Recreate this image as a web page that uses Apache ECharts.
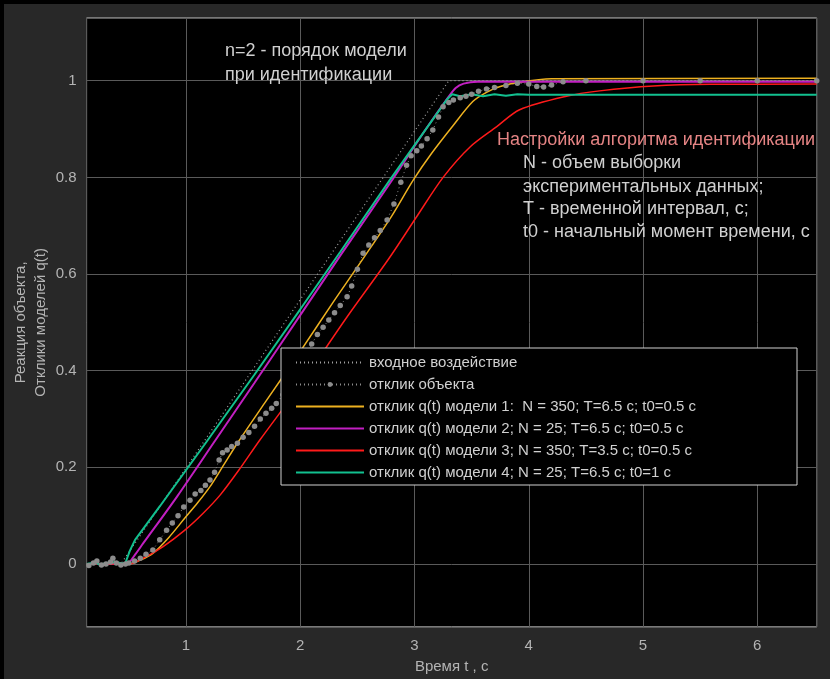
<!DOCTYPE html>
<html>
<head>
<meta charset="utf-8">
<script src="https://cdn.jsdelivr.net/npm/echarts@6/dist/echarts.min.js"></script>
<style>
html,body{margin:0;padding:0;background:#000;width:830px;height:679px;overflow:hidden;}
#c{position:absolute;left:4px;top:4px;width:826px;height:675px;}
</style>
</head>
<body>
<div id="c"></div>
<script>
// ---- data (time in s, response values) ----
const seriesNames = [
  'входное воздействие',
  'отклик объекта',
  'отклик q(t) модели 1:  N = 350; T=6.5 c; t0=0.5 c',
  'отклик q(t) модели 2; N = 25; T=6.5 c; t0=0.5 c',
  'отклик q(t) модели 3; N = 350; T=3.5 c; t0=0.5 c',
  'отклик q(t) модели 4; N = 25; T=6.5 c; t0=1 c'
];
const xTicks = [1, 2, 3, 4, 5, 6];
const yTicks = [0, 0.2, 0.4, 0.6, 0.8, 1];

const tInput = [0.13, 0.43, 3.30, 6.52];
const vInput = [0, 0, 1, 1];

const tObj = [0.15,0.19,0.22,0.26,0.30,0.34,0.36,0.39,0.43,0.47,0.50,0.55,0.60,0.65,0.71,0.77,0.83,0.88,0.93,0.98,
  1.035,1.08,1.13,1.17,1.21,1.25,1.29,1.32,1.36,1.40,1.45,1.50,1.55,1.60,1.65,1.70,1.75,1.79,1.85,1.90,
  1.95,2.00,2.05,2.10,2.15,2.20,2.25,2.30,2.35,2.41,2.45,2.50,2.55,2.60,2.65,2.70,2.76,2.82,2.88,2.93,
  2.97,3.02,3.06,3.11,3.16,3.21,3.25,3.30,3.34,3.40,3.45,3.50,3.56,3.63,3.70,3.80,3.90,4.00,4.07,4.13,
  4.20,4.30,4.50,5.00,5.50,6.00,6.52];
const vObj = [-0.003,0.002,0.006,-0.002,0.000,0.004,0.012,0.002,-0.002,0.000,0.002,0.006,0.012,0.020,0.029,0.050,0.070,0.085,0.100,0.118,
  0.132,0.145,0.152,0.163,0.174,0.190,0.215,0.230,0.236,0.243,0.250,0.262,0.272,0.285,0.300,0.312,0.322,0.332,0.350,0.370,
  0.385,0.405,0.430,0.455,0.475,0.490,0.505,0.520,0.535,0.553,0.575,0.610,0.643,0.660,0.675,0.690,0.712,0.745,0.790,0.825,
  0.845,0.855,0.865,0.880,0.898,0.925,0.946,0.955,0.960,0.965,0.968,0.972,0.978,0.983,0.986,0.990,0.995,0.993,0.988,0.987,
  0.991,0.998,1.000,1.000,1.000,1.000,1.000];

const tM1 = [0.13,0.50,0.60,0.71,0.85,0.99,1.10,1.21,1.33,1.458,1.70,2.00,2.30,2.55,2.80,2.99,3.15,3.34,3.51,3.63,3.75,3.92,4.20,6.52];
const vM1 = [0,0,0.008,0.022,0.055,0.095,0.126,0.160,0.205,0.253,0.337,0.440,0.546,0.632,0.720,0.795,0.850,0.908,0.957,0.976,0.988,0.997,1.004,1.005];

const tM2 = [0.13,0.48,0.55,0.626,0.92,1.26,1.60,2.00,2.35,2.80,3.10,3.296,3.36,3.43,3.55,6.52];
const vM2 = [0,0,0.018,0.043,0.139,0.257,0.375,0.515,0.638,0.793,0.900,0.966,0.985,0.994,0.998,0.998];

const tM3 = [0.13,0.50,0.626,0.80,0.99,1.15,1.30,1.48,1.648,2.00,2.40,2.77,3.02,3.25,3.486,3.72,3.92,4.33,4.62,5.09,5.59,6.52];
const vM3 = [0,0,0.012,0.036,0.070,0.105,0.143,0.200,0.257,0.370,0.508,0.630,0.719,0.800,0.863,0.905,0.940,0.968,0.979,0.989,0.9925,0.993];

const tM4 = [0.13,0.20,0.25,0.30,0.38,0.466,0.51,0.554,0.77,1.18,1.60,2.00,2.348,2.80,3.10,3.28,3.33,3.40,3.50,3.60,3.70,3.80,3.90,4.00,6.52];
const vM4 = [0,0.003,-0.002,0.002,0.004,0,0.028,0.050,0.119,0.253,0.392,0.527,0.645,0.800,0.900,0.960,0.972,0.968,0.972,0.968,0.972,0.969,0.972,0.971,0.971];

const zip = (t, v) => t.map((x, i) => [x, v[i]]);

const OX = 4, OY = 4; // container offset in the page
const FONT = '"Liberation Sans", Arial, sans-serif';
const noSym = {opacity: 0};

const chart = echarts.init(document.getElementById('c'), null, {renderer: 'canvas'});
chart.setOption({
  backgroundColor: '#282828',
  animation: false,
  textStyle: {fontFamily: FONT},
  grid: {left: 86.6 - OX, right: 830 - 816.7, top: 17.9 - OY, bottom: 679 - 626.8,
         outerBoundsMode: 'none', containLabel: false,
         show: true, backgroundColor: '#000', borderColor: '#a8a8a8', borderWidth: 1},
  xAxis: {
    type: 'value', min: 0.13, max: 6.52, splitNumber: 6,
    name: 'Время t , с', nameLocation: 'middle', nameGap: 33,
    nameTextStyle: {color: '#b4b4b4', fontSize: 15, fontFamily: FONT},
    axisLine: {show: false}, axisTick: {show: false},
    axisLabel: {color: '#b4b4b4', fontSize: 15, fontFamily: FONT, margin: 12,
                showMinLabel: false, showMaxLabel: false,
                formatter: v => xTicks.includes(Math.round(v * 1000) / 1000) ? String(v) : ''},
    splitLine: {show: true, lineStyle: {color: '#5a5a5a', width: 1}}
  },
  yAxis: {
    type: 'value', min: -0.13, max: 1.13, splitNumber: 6,
    name: 'Реакция объекта,\nОтклики моделей q(t)', nameLocation: 'middle', nameGap: 36, nameRotate: 90,
    nameMoveOverlap: false,
    nameTextStyle: {color: '#b4b4b4', fontSize: 15, fontFamily: FONT, lineHeight: 20},
    axisLine: {show: false}, axisTick: {show: false},
    axisLabel: {color: '#b4b4b4', fontSize: 15, fontFamily: FONT, margin: 10,
                showMinLabel: false, showMaxLabel: false,
                formatter: v => { const r = Math.round(v * 1000) / 1000; return yTicks.includes(r) ? String(r) : ''; }},
    splitLine: {show: true, lineStyle: {color: '#5a5a5a', width: 1}}
  },
  legend: {
    orient: 'vertical', left: 295 - OX, top: 355 - OY, padding: 0, z: 10,
    itemWidth: 68, itemHeight: 6, itemGap: 7, selectedMode: false,
    textStyle: {color: '#d0d0d0', fontSize: 15, lineHeight: 15, fontFamily: FONT},
    data: [
      {name: seriesNames[0], itemStyle: noSym},
      {name: seriesNames[1]},
      {name: seriesNames[2], itemStyle: noSym},
      {name: seriesNames[3], itemStyle: noSym},
      {name: seriesNames[4], itemStyle: noSym},
      {name: seriesNames[5], itemStyle: noSym}
    ]
  },
  graphic: [
    {type: 'rect', z: 5, shape: {x: 281 - OX, y: 348 - OY, width: 516, height: 137},
     style: {fill: '#000', stroke: '#d0d0d0', lineWidth: 1}},
    {type: 'text', z: 6, left: 225 - OX, top: 42 - OY,
     style: {text: 'n=2 - порядок модели', fill: '#d0d0d0', font: '18px ' + FONT}},
    {type: 'text', z: 6, left: 225 - OX, top: 66 - OY,
     style: {text: 'при идентификации', fill: '#d0d0d0', font: '18px ' + FONT}},
    {type: 'text', z: 6, left: 497 - OX, top: 131 - OY,
     style: {text: 'Настройки алгоритма идентификации', fill: '#e58484', font: '18px ' + FONT}},
    {type: 'text', z: 6, left: 523 - OX, top: 154 - OY,
     style: {text: 'N - объем выборки', fill: '#d0d0d0', font: '18px ' + FONT}},
    {type: 'text', z: 6, left: 523 - OX, top: 178 - OY,
     style: {text: 'экспериментальных данных;', fill: '#d0d0d0', font: '18px ' + FONT}},
    {type: 'text', z: 6, left: 523 - OX, top: 200 - OY,
     style: {text: 'T - временной интервал, с;', fill: '#d0d0d0', font: '18px ' + FONT}},
    {type: 'text', z: 6, left: 523 - OX, top: 223 - OY,
     style: {text: 't0 - начальный момент времени, с', fill: '#d0d0d0', font: '18px ' + FONT}}
  ],
  series: [
    {name: seriesNames[0], type: 'line', data: zip(tInput, vInput), symbol: 'none', z: 2,
     lineStyle: {color: '#a0a0a0', width: 1.2, type: [1, 3]}, itemStyle: {color: '#a0a0a0'}},
    {name: seriesNames[1], type: 'line', data: zip(tObj, vObj), symbol: 'circle', symbolSize: 5.5, z: 2,
     lineStyle: {color: '#8c8c8c', width: 1, type: [1, 3]}, itemStyle: {color: '#8c8c8c'}},
    {name: seriesNames[2], type: 'line', data: zip(tM1, vM1), symbol: 'none', smooth: 0.3, z: 2,
     lineStyle: {color: '#edb120', width: 1.5}, itemStyle: {color: '#edb120'}},
    {name: seriesNames[3], type: 'line', data: zip(tM2, vM2), symbol: 'none', smooth: 0.3, z: 2,
     lineStyle: {color: '#c21fc2', width: 2}, itemStyle: {color: '#c21fc2'}},
    {name: seriesNames[4], type: 'line', data: zip(tM3, vM3), symbol: 'none', smooth: 0.3, z: 2,
     lineStyle: {color: '#ff1a1a', width: 1.5}, itemStyle: {color: '#ff1a1a'}},
    {name: seriesNames[5], type: 'line', data: zip(tM4, vM4), symbol: 'none', z: 2,
     lineStyle: {color: '#12c08f', width: 2}, itemStyle: {color: '#12c08f'}}
  ]
});
</script>
</body>
</html>
